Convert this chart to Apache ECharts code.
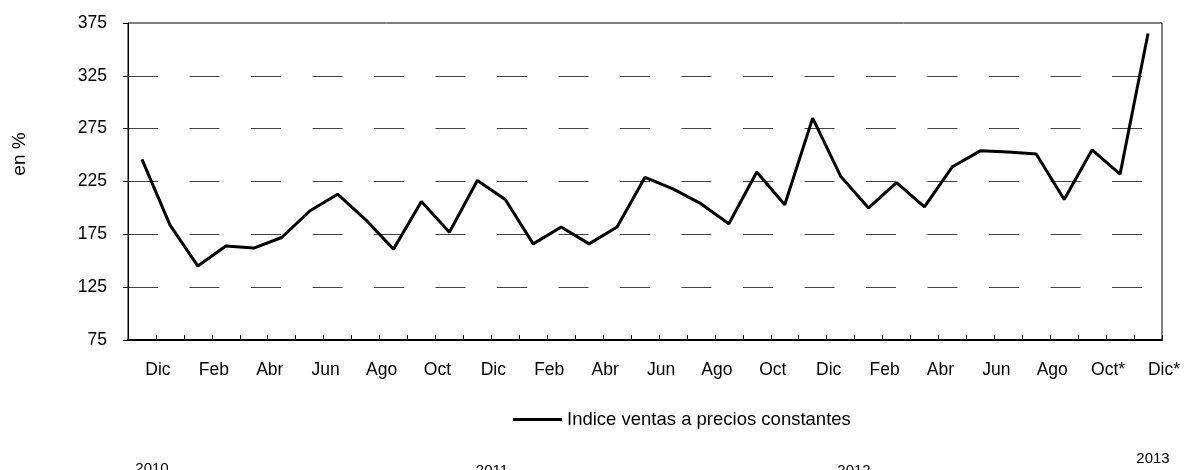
<!DOCTYPE html>
<html>
<head>
<meta charset="utf-8">
<script src="https://cdn.jsdelivr.net/npm/echarts@6/dist/echarts.min.js"></script>
<style>
  html, body { margin: 0; padding: 0; background: #fff; }
  #chart { width: 1188px; height: 470px; }
</style>
</head>
<body>
<div id="chart"></div>
<script>
// months Dic 2010 .. Dic 2013
const months = ['Dic', 'Ene', 'Feb', 'Mar', 'Abr', 'May', 'Jun', 'Jul', 'Ago', 'Sep', 'Oct', 'Nov',
                'Dic', 'Ene', 'Feb', 'Mar', 'Abr', 'May', 'Jun', 'Jul', 'Ago', 'Sep', 'Oct', 'Nov',
                'Dic', 'Ene', 'Feb', 'Mar', 'Abr', 'May', 'Jun', 'Jul', 'Ago', 'Sep', 'Oct*', 'Nov*',
                'Dic*']
const ventas = [246, 184, 145, 164, 162, 172, 197, 213, 189, 161, 206, 177,
                226, 208, 166, 182, 166, 182, 229, 218, 204, 185, 234, 203,
                285, 230, 200, 224, 201, 239, 254, 253, 251, 208, 255, 232,
                365]
const years = ['2010', '2011', '2012', '2013']
const seriesName = 'Indice ventas a precios constantes'

const font = 'Liberation Sans, Arial, sans-serif'
const yearPos = [[152, 461], [492, 463], [854, 463], [1153, 451]]

const chart = echarts.init(document.getElementById('chart'))
const option = {
  animation: false,
  textStyle: { fontFamily: font, color: '#000' },
  grid: {
    left: 128, right: 26, top: 23, bottom: 130,
    show: true, borderColor: '#000', borderWidth: 1
  },
  legend: {
    left: 508, top: 405,
    icon: 'rect', itemWidth: 49, itemHeight: 3, itemGap: 5,
    textStyle: { fontSize: 18.5, color: '#000', fontFamily: font },
    data: [seriesName]
  },
  xAxis: {
    type: 'category',
    data: months,
    boundaryGap: true,
    axisLine: { lineStyle: { color: '#000', width: 2 } },
    axisTick: { show: true, inside: true, length: 5, interval: 0, lineStyle: { color: '#000' } },
    axisLabel: {
      interval: 1, fontSize: 17.5, color: '#000', margin: 21,
      padding: [0, 0, 0, 32]
    },
    splitLine: { show: false }
  },
  yAxis: {
    type: 'value',
    min: 75, max: 375, interval: 50,
    axisLine: { show: true, lineStyle: { color: '#000' } },
    axisTick: { show: true, length: 5, lineStyle: { color: '#000' } },
    axisLabel: { fontSize: 17.5, color: '#000', margin: 21 },
    splitLine: {
      show: true, showMinLine: false, showMaxLine: false,
      lineStyle: { color: '#444', width: 1, type: [30, 31.5] }
    }
  },
  graphic: [
    {
      type: 'text', x: 20, y: 154, rotation: Math.PI / 2,
      style: { text: 'en %', font: '19px ' + font, fill: '#000', align: 'center', verticalAlign: 'middle' }
    }
  ].concat(years.map((y, i) => ({
    type: 'text', x: yearPos[i][0], y: yearPos[i][1],
    style: { text: y, font: '15px ' + font, fill: '#000', align: 'center', verticalAlign: 'top' }
  }))),
  series: [{
    name: seriesName,
    type: 'line',
    data: ventas,
    showSymbol: false,
    lineStyle: { color: '#000', width: 3 },
    itemStyle: { color: '#000' }
  }]
}
chart.setOption(option)
</script>
</body>
</html>
